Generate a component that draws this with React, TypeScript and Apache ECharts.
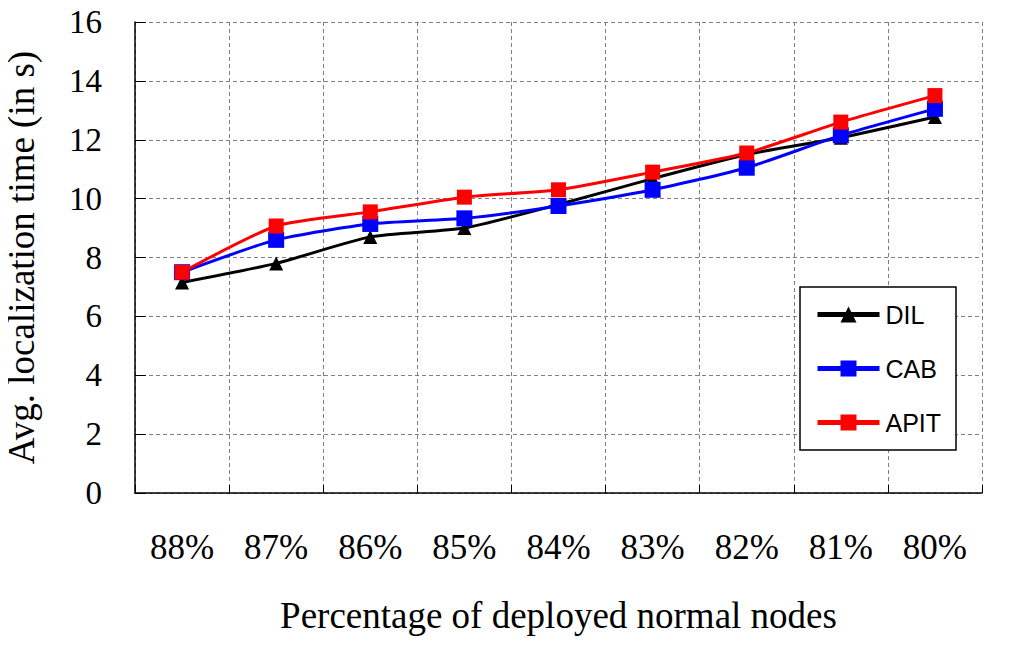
import React, { useEffect, useRef } from "react";
import * as echarts from "echarts";

const categories = ["88%", "87%", "86%", "85%", "84%", "83%", "82%", "81%", "80%"];
const dilValues = [7.15, 7.8, 8.7, 9.0, 9.8, 10.68, 11.5, 12.07, 12.77];
const cabValues = [7.5, 8.6, 9.14, 9.33, 9.75, 10.3, 11.05, 12.15, 13.05];
const apitValues = [7.5, 9.07, 9.55, 10.05, 10.3, 10.9, 11.55, 12.6, 13.5];
const yTicks = [0, 2, 4, 6, 8, 10, 12, 14, 16];

export default function App() {
  const ref = useRef<HTMLDivElement>(null);
  useEffect(() => {
    if (!ref.current) return;
    const chart = echarts.init(ref.current, null, { renderer: "svg" });
    const serif = "Liberation Serif";
    const sans = "Liberation Sans";
    const mkLegend = (name: string, center: number) => ({
      data: [name],
      orient: "vertical",
      left: 815,
      top: center - 13,
      itemWidth: 62,
      itemHeight: 20,
      itemGap: 0,
      padding: 0,
      z: 10,
      lineStyle: { width: 5 },
      textStyle: { fontFamily: sans, fontSize: 25, color: "#000", padding: [0, 0, 0, 1] },
    });
    chart.setOption({
      animation: false,
      backgroundColor: "#fff",
      grid: { left: 135, right: 42, top: 22, bottom: 160, containLabel: false, outerBoundsMode: "none" },
      xAxis: {
        type: "category",
        data: categories,
        boundaryGap: true,
        name: "Percentage of deployed normal nodes",
        nameLocation: "middle",
        nameGap: 104,
        nameTextStyle: { fontFamily: serif, fontSize: 37, color: "#000" },
        axisLine: { lineStyle: { color: "#000", width: 1.5 } },
        axisTick: { show: true, inside: true, length: 8, lineStyle: { color: "#000", width: 1 } },
        axisLabel: { fontFamily: serif, fontSize: 35, color: "#000", margin: 37 },
        splitLine: { show: true, lineStyle: { color: "#808080", type: [4, 3], width: 1 } },
      },
      yAxis: {
        type: "value",
        min: yTicks[0],
        max: yTicks[yTicks.length - 1],
        interval: 2,
        name: "Avg. localization time (in s)",
        nameLocation: "middle",
        nameGap: 95,
        nameTextStyle: { fontFamily: serif, fontSize: 37, color: "#000" },
        axisLine: { show: true, lineStyle: { color: "#000", width: 1.5 } },
        axisTick: { show: true, inside: true, length: 11, lineStyle: { color: "#000", width: 1 } },
        axisLabel: { fontFamily: serif, fontSize: 33, color: "#000", margin: 33 },
        splitLine: { show: true, lineStyle: { color: "#808080", type: [4, 3], width: 1 } },
      },
      legend: [mkLegend("DIL", 315), mkLegend("CAB", 369), mkLegend("APIT", 423)],
      graphic: [
        {
          type: "rect",
          shape: { x: 800, y: 287, width: 156, height: 163 },
          style: { fill: "#fff", stroke: "#000", lineWidth: 1.5 },
          z: 1,
        },
      ],
      series: [
        {
          name: "DIL",
          type: "line",
          data: dilValues,
          smooth: 0.2,
          symbol: "triangle",
          symbolSize: 14,
          lineStyle: { color: "#000", width: 3 },
          itemStyle: { color: "#000" },
          z: 2,
        },
        {
          name: "CAB",
          type: "line",
          data: cabValues,
          smooth: 0.2,
          symbol: "rect",
          symbolSize: 16,
          lineStyle: { color: "#0000ff", width: 3 },
          itemStyle: { color: "#0000ff" },
          z: 3,
        },
        {
          name: "APIT",
          type: "line",
          data: apitValues,
          smooth: 0.2,
          symbol: "rect",
          symbolSize: 15,
          lineStyle: { color: "#ff0000", width: 3 },
          itemStyle: { color: "#ff0000" },
          z: 4,
        },
      ],
    });
    return () => chart.dispose();
  }, []);
  return <div ref={ref} style={{ width: 1024, height: 653, margin: -8 }} />;
}
